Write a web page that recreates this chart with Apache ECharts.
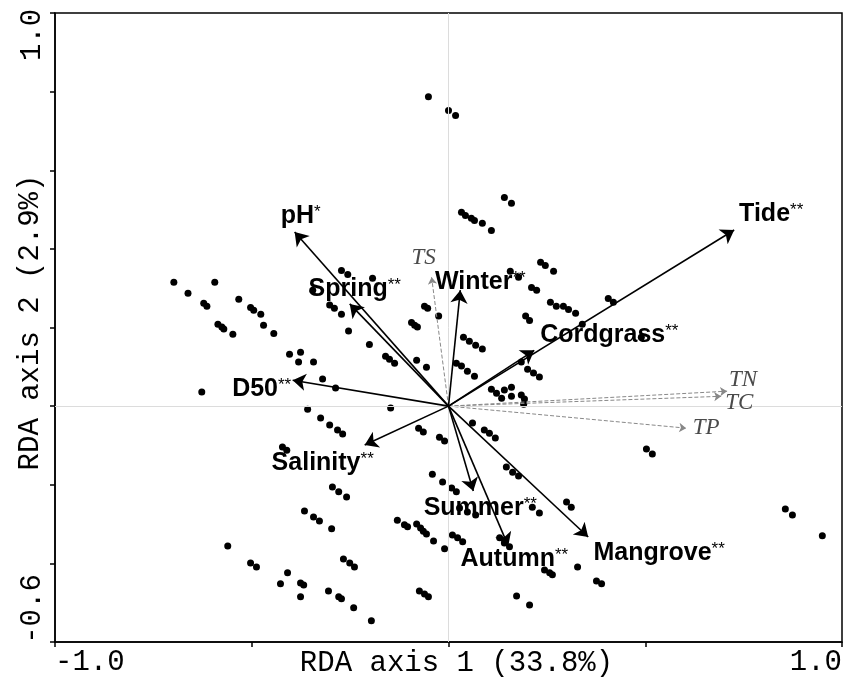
<!DOCTYPE html>
<html lang="en">
<head>
<meta charset="UTF-8">
<title>RDA biplot</title>
<script src="https://cdn.jsdelivr.net/npm/echarts@6/dist/echarts.min.js"></script>
<style>
  html, body { margin: 0; padding: 0; background: #fff; }
</style>
</head>
<body>
<div id="main" style="width: 844px;height:687px;"></div>
<script type="text/javascript">
  // sample scores (RDA axis 1, RDA axis 2)
  var siteX = [
    -0.698, -0.662, -0.594, -0.622, -0.614, -0.533, -0.503, -0.495, -0.477, -0.586,
    -0.576, -0.571, -0.548, -0.470, -0.444, -0.272, -0.256, -0.193, -0.345, -0.302,
    -0.290, -0.272, -0.254, -0.201, -0.160, -0.150, -0.137, -0.081, -0.056, -0.404,
    -0.376, -0.381, -0.343, -0.320, -0.287, -0.627, -0.147, -0.358, -0.325, -0.302,
    -0.282, -0.269, -0.061, -0.053, -0.025, -0.094, -0.086, -0.079, -0.051, 0.000,
    0.018, 0.142, 0.160, 0.033, 0.043, 0.058, 0.066, 0.086, 0.109, 0.234,
    0.246, 0.267, 0.157, 0.178, 0.211, 0.224, 0.259, 0.274, 0.292, 0.305,
    0.323, 0.406, 0.419, 0.196, 0.206, 0.340, 0.490, 0.038, 0.053, 0.069,
    0.086, 0.020, 0.033, 0.048, 0.066, 0.185, 0.201, 0.216, 0.231, 0.109,
    0.122, 0.135, 0.142, 0.160, 0.160, 0.185, 0.193, 0.191, -0.422, -0.411,
    -0.295, -0.279, -0.259, -0.366, -0.343, -0.328, -0.297, -0.561, -0.503, -0.488,
    -0.409, -0.427, -0.376, -0.368, -0.376, -0.267, -0.251, -0.239, -0.305, -0.279,
    -0.272, -0.241, -0.196, -0.130, -0.112, -0.104, -0.081, -0.071, -0.064, -0.056,
    -0.038, -0.010, -0.074, -0.061, -0.051, -0.076, -0.064, -0.023, -0.010, -0.041,
    0.061, 0.091, 0.104, 0.119, -0.015, 0.008, 0.020, 0.147, 0.163, 0.178,
    0.300, 0.312, 0.213, 0.231, 0.010, 0.023, 0.036, 0.130, 0.142, 0.155,
    0.244, 0.257, 0.264, 0.328, 0.376, 0.389, 0.173, 0.206, 0.503, 0.518,
    0.856, 0.874, 0.950, 0.028, 0.048, 0.069
  ];
  var siteY = [
    0.315, 0.287, 0.315, 0.262, 0.254, 0.272, 0.251, 0.244, 0.234, 0.208,
    0.201, 0.196, 0.183, 0.206, 0.185, 0.345, 0.335, 0.325, 0.295, 0.257,
    0.249, 0.234, 0.191, 0.157, 0.127, 0.119, 0.109, 0.117, 0.099, 0.132,
    0.137, 0.112, 0.112, 0.069, 0.046, 0.036, -0.005, -0.008, -0.030, -0.048,
    -0.061, -0.071, 0.254, 0.249, 0.229, 0.213, 0.206, 0.201, 0.787, 0.752,
    0.739, 0.531, 0.516, 0.493, 0.485, 0.478, 0.472, 0.465, 0.447, 0.366,
    0.358, 0.343, 0.343, 0.328, 0.302, 0.295, 0.264, 0.254, 0.254, 0.246,
    0.236, 0.274, 0.264, 0.229, 0.218, 0.208, 0.175, 0.175, 0.165, 0.155,
    0.145, 0.109, 0.102, 0.089, 0.076, 0.112, 0.094, 0.084, 0.074, 0.043,
    0.033, 0.020, 0.041, 0.048, 0.025, 0.028, 0.018, 0.005, -0.104, -0.112,
    -0.206, -0.218, -0.231, -0.267, -0.282, -0.292, -0.312, -0.356, -0.399, -0.409,
    -0.424, -0.452, -0.450, -0.455, -0.485, -0.389, -0.399, -0.409, -0.470, -0.485,
    -0.490, -0.513, -0.546, -0.290, -0.302, -0.307, -0.300, -0.310, -0.318, -0.325,
    -0.343, -0.363, -0.470, -0.478, -0.485, -0.056, -0.066, -0.079, -0.089, -0.173,
    -0.043, -0.061, -0.069, -0.081, -0.193, -0.208, -0.218, -0.155, -0.168, -0.178,
    -0.244, -0.257, -0.257, -0.272, -0.328, -0.335, -0.345, -0.335, -0.348, -0.358,
    -0.417, -0.424, -0.429, -0.409, -0.445, -0.452, -0.483, -0.506, -0.109, -0.122,
    -0.262, -0.277, -0.330, -0.259, -0.269, -0.277
  ];

  // significant explanatory variables (arrow tips)
  var envNames = ['pH', 'Spring', 'D50', 'Winter', 'Tide', 'Cordgrass', 'Salinity', 'Summer', 'Autumn', 'Mangrove'];
  var envSig   = ['*', '**', '**', '**', '**', '**', '**', '**', '**', '**'];
  var envX     = [-0.391, -0.251, -0.396, 0.030, 0.726, 0.218, -0.213, 0.063, 0.152, 0.355];
  var envY     = [0.443, 0.260, 0.066, 0.295, 0.448, 0.142, -0.099, -0.216, -0.356, -0.333];

  // non-significant variables (dotted arrows)
  var nsNames = ['TS', 'TN', 'TC', 'TP'];
  var nsX     = [-0.043, 0.708, 0.693, 0.604];
  var nsY     = [0.328, 0.038, 0.025, -0.056];

  // axis tick values that carry a label
  var xTickLabels = {'-1': '-1.0', '1': '1.0'};
  var yTickLabels = {'1': '1.0', '-0.6': '-0.6'};

  // label offsets (pixels) from arrow tips
  var envOffsets = {
    'pH': [6, -16], 'Spring': [5, -15], 'D50': [-31, 9], 'Winter': [20, -8],
    'Tide': [37, -16], 'Cordgrass': [75, -15], 'Salinity': [-42, 18],
    'Summer': [7, 17], 'Autumn': [6, 13], 'Mangrove': [71, 16]
  };
  var nsOffsets = {'TS': [-8, -19], 'TN': [16, -11], 'TC': [18, 7], 'TP': [20, 0]};

  var myChart = echarts.init(document.getElementById('main'));

  var sites = siteX.map(function (x, i) { return [x, siteY[i]]; });

  var envLines = envNames.map(function (n, i) {
    return {coords: [[0, 0], [envX[i], envY[i]]]};
  });
  var nsLines = nsNames.map(function (n, i) {
    return {coords: [[0, 0], [nsX[i], nsY[i]]]};
  });

  var envLabels = envNames.map(function (n, i) {
    return {
      value: [envX[i], envY[i]],
      label: {offset: envOffsets[n], formatter: '{b|' + n + '}{s|' + envSig[i] + '}'}
    };
  });
  var nsLabels = nsNames.map(function (n, i) {
    return {value: [nsX[i], nsY[i]], label: {offset: nsOffsets[n], formatter: n}};
  });

  var monoFont = '"Liberation Mono", "DejaVu Sans Mono", monospace';

  option = {
    animation: false,
    grid: {
      left: 55, right: 2, top: 13, bottom: 45,
      containLabel: false, outerBoundsMode: 'none',
      show: true, borderColor: '#000', borderWidth: 1.5
    },
    xAxis: {
      type: 'value', min: -1, max: 1, interval: 0.5,
      name: 'RDA axis 1 (33.8%)',
      nameLocation: 'middle', nameGap: 7, nameMoveOverlap: false,
      nameTextStyle: {fontFamily: monoFont, fontSize: 29, color: '#000', padding: [0, 0, 0, 16]},
      axisLine: {onZero: false, lineStyle: {color: '#000', width: 1.5}},
      axisTick: {length: 5, lineStyle: {color: '#000', width: 1.5}},
      splitLine: {show: false},
      axisLabel: {
        fontFamily: monoFont, fontSize: 29, color: '#000', margin: 6,
        alignMinLabel: 'left', alignMaxLabel: 'right',
        formatter: function (v) { return xTickLabels[String(v)] || ''; }
      }
    },
    yAxis: {
      type: 'value', min: -0.6, max: 1.0, interval: 0.2,
      name: 'RDA axis 2 (2.9%)',
      nameLocation: 'middle', nameGap: 10, nameRotate: 90, nameMoveOverlap: false,
      nameTextStyle: {fontFamily: monoFont, fontSize: 29, color: '#000', padding: [0, 0, 0, 10]},
      axisLine: {onZero: false, lineStyle: {color: '#000', width: 1.5}},
      axisTick: {length: 5, lineStyle: {color: '#000', width: 1.5}},
      splitLine: {show: false},
      axisLabel: {
        fontFamily: monoFont, fontSize: 29, color: '#000', rotate: 90, margin: 8,
        formatter: function (v) {
          var t = yTickLabels[String(Math.round(v * 10) / 10)];
          if (!t) return '';
          return v > 0 ? '{top|' + t + '}' : '{bot|' + t + '}';
        },
        rich: {
          top: {fontFamily: monoFont, fontSize: 29, color: '#000', padding: [0, 44, 0, 0]},
          bot: {fontFamily: monoFont, fontSize: 29, color: '#000', padding: [0, 0, 0, 66]}
        }
      }
    },
    series: [
      {
        name: 'zero',
        type: 'scatter',
        data: [],
        markLine: {
          silent: true, symbol: 'none', label: {show: false},
          lineStyle: {color: '#dcdcdc', width: 1, type: 'solid'},
          data: [{xAxis: 0}, {yAxis: 0}]
        }
      },
      {
        name: 'sites',
        type: 'scatter',
        symbolSize: 7,
        itemStyle: {color: '#000', opacity: 1},
        data: sites,
        z: 3
      },
      {
        name: 'ns arrows',
        type: 'lines',
        coordinateSystem: 'cartesian2d',
        symbol: ['none', 'arrow'],
        symbolSize: 7,
        lineStyle: {color: '#888', width: 1, type: 'dashed', opacity: 1},
        data: nsLines,
        z: 4
      },
      {
        name: 'env arrows',
        type: 'lines',
        coordinateSystem: 'cartesian2d',
        symbol: ['none', 'arrow'],
        symbolSize: 13,
        lineStyle: {color: '#000', width: 1.6, opacity: 1},
        data: envLines,
        z: 5
      },
      {
        name: 'ns labels',
        type: 'scatter',
        symbolSize: 0,
        itemStyle: {opacity: 1},
        data: nsLabels,
        label: {
          show: true, position: 'inside', opacity: 1,
          fontFamily: '"Liberation Serif", serif', fontStyle: 'italic',
          fontSize: 23, color: '#4a4a4a'
        },
        z: 6
      },
      {
        name: 'env labels',
        type: 'scatter',
        symbolSize: 0,
        itemStyle: {opacity: 1},
        data: envLabels,
        label: {
          show: true, position: 'inside', opacity: 1,
          rich: {
            b: {fontFamily: '"Liberation Sans", Arial, sans-serif', fontWeight: 'bold', fontSize: 25, color: '#000'},
            s: {fontFamily: '"Liberation Sans", Arial, sans-serif', fontSize: 17, color: '#000', verticalAlign: 'top'}
          }
        },
        z: 6
      }
    ]
  };

  myChart.setOption(option);
</script>
</body>
</html>
